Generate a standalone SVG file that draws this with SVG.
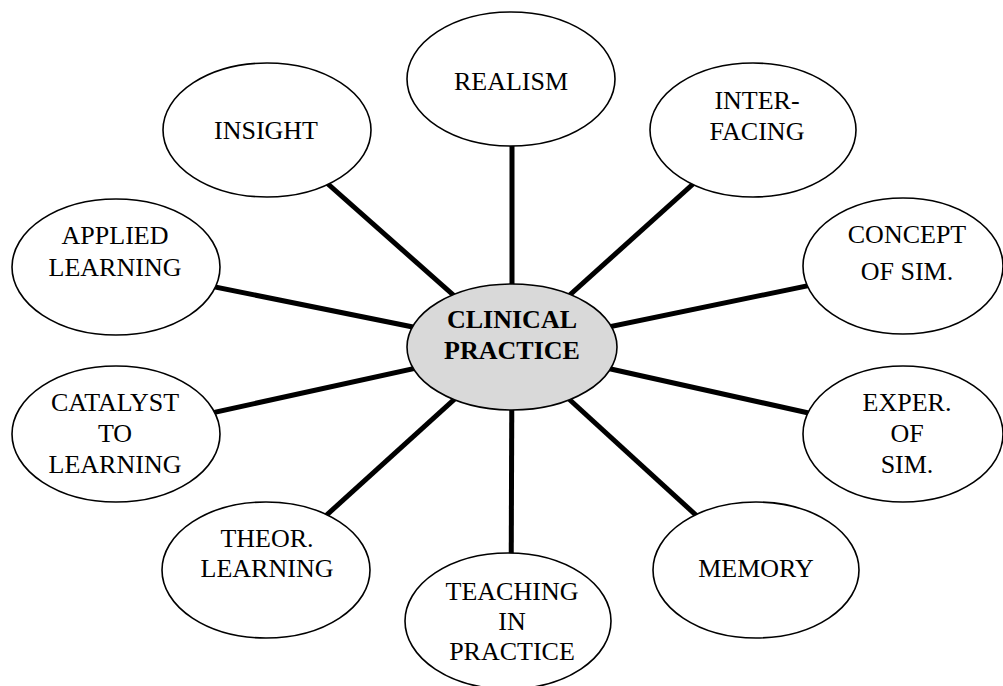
<svg xmlns="http://www.w3.org/2000/svg" width="1003" height="686" viewBox="0 0 1003 686">
  <style>
    .spoke { stroke: #000; stroke-width: 5; stroke-linecap: butt; }
    .bubble { fill: #fff; stroke: #000; stroke-width: 1.6; }
    .hub { fill: #d9d9d9; stroke: #000; stroke-width: 1.6; }
    .lbl { font-family: "Liberation Serif", "Times New Roman", serif; font-size: 26px; fill: #000; text-anchor: middle; }
    .hub-lbl { font-weight: bold; font-size: 26px; }
  </style>
  <rect width="1003" height="686" fill="#fff"/>

  <!-- spokes run from the hub centre to each bubble centre; bubbles cover the ends -->
  <g id="connectors">
    <line class="spoke" x1="512" y1="347" x2="512" y2="79"/>
    <line class="spoke" x1="512" y1="347" x2="753" y2="130"/>
    <line class="spoke" x1="512" y1="347" x2="903" y2="266"/>
    <line class="spoke" x1="512" y1="347" x2="903" y2="434"/>
    <line class="spoke" x1="512" y1="347" x2="756" y2="570"/>
    <line class="spoke" x1="512" y1="347" x2="511" y2="621"/>
    <line class="spoke" x1="512" y1="347" x2="266" y2="570"/>
    <line class="spoke" x1="512" y1="347" x2="116" y2="434"/>
    <line class="spoke" x1="512" y1="347" x2="116" y2="267"/>
    <line class="spoke" x1="512" y1="347" x2="267" y2="130"/>
  </g>

  <g id="realism">
    <ellipse class="bubble" cx="511" cy="79" rx="104" ry="67"/>
    <text class="lbl" x="511" y="90">REALISM</text>
  </g>

  <g id="interfacing">
    <ellipse class="bubble" cx="753" cy="130" rx="103" ry="67"/>
    <text class="lbl" x="757" y="109">INTER-</text>
    <text class="lbl" x="757" y="140">FACING</text>
  </g>

  <g id="concept-of-sim">
    <ellipse class="bubble" cx="903" cy="266" rx="100" ry="68"/>
    <text class="lbl" x="907" y="243">CONCEPT</text>
    <text class="lbl" x="907" y="280">OF SIM.</text>
  </g>

  <g id="exper-of-sim">
    <ellipse class="bubble" cx="903" cy="434" rx="100" ry="68"/>
    <text class="lbl" x="907" y="411">EXPER.</text>
    <text class="lbl" x="907" y="442">OF</text>
    <text class="lbl" x="907" y="473">SIM.</text>
  </g>

  <g id="memory">
    <ellipse class="bubble" cx="756" cy="570" rx="103" ry="68"/>
    <text class="lbl" x="756" y="577">MEMORY</text>
  </g>

  <g id="teaching-in-practice">
    <ellipse class="bubble" cx="508" cy="621" rx="103" ry="68"/>
    <text class="lbl" x="512" y="600">TEACHING</text>
    <text class="lbl" x="512" y="630">IN</text>
    <text class="lbl" x="512" y="660">PRACTICE</text>
  </g>

  <g id="theor-learning">
    <ellipse class="bubble" cx="266" cy="570" rx="104" ry="68"/>
    <text class="lbl" x="267" y="547">THEOR.</text>
    <text class="lbl" x="267" y="577">LEARNING</text>
  </g>

  <g id="catalyst-to-learning">
    <ellipse class="bubble" cx="116" cy="434" rx="104" ry="68"/>
    <text class="lbl" x="115" y="411">CATALYST</text>
    <text class="lbl" x="115" y="442">TO</text>
    <text class="lbl" x="115" y="473">LEARNING</text>
  </g>

  <g id="applied-learning">
    <ellipse class="bubble" cx="116" cy="267" rx="104" ry="68"/>
    <text class="lbl" x="115" y="244">APPLIED</text>
    <text class="lbl" x="115" y="276">LEARNING</text>
  </g>

  <g id="insight">
    <ellipse class="bubble" cx="267" cy="130" rx="104" ry="67"/>
    <text class="lbl" x="266" y="139">INSIGHT</text>
  </g>

  <g id="clinical-practice">
    <ellipse class="hub" cx="512" cy="347" rx="105" ry="63"/>
    <text class="lbl hub-lbl" x="512" y="328">CLINICAL</text>
    <text class="lbl hub-lbl" x="512" y="359">PRACTICE</text>
  </g>
</svg>
